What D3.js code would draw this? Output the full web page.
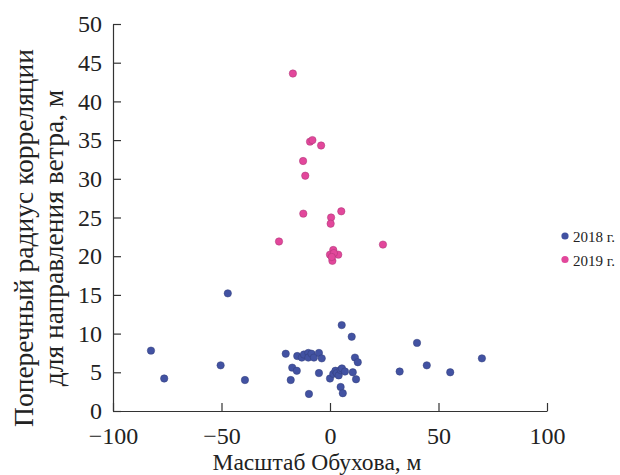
<!DOCTYPE html>
<html>
<head>
<meta charset="utf-8">
<script src="https://cdn.jsdelivr.net/npm/d3@7"></script>
<style>
body { margin: 0; background: #fff; }
svg text { font-family: "Liberation Serif", "Tinos", "Times New Roman", "DejaVu Serif", serif; }
.axis path, .axis line { stroke: #333; stroke-width: 1.2; }
.axis text { font-size: 24px; fill: #222; }
</style>
</head>
<body>
<div id="chart"></div>
<script>

WIDTH = 620;
HEIGHT = 475;
SERIF = "'Liberation Serif', 'Times New Roman', 'DejaVu Serif', serif";

// data
var x2018 = [-82.5, -76.4, -50.4, -39.2, -47.1, -20.4, -17.4, -15.3, -18.1, -15.1, -13.0, -12.0,
             -10.0, -10.0, -8.5, -7.4, -5.1, -3.8, -5.1, -9.7, 0.0, 1.5, 2.5, 3.1, 4.0, 4.9, 5.5,
             6.9, 4.9, 5.9, 5.4, 10.0, 11.5, 12.8, 10.5, 12.0, 40.1, 32.1, 44.6, 55.4, 70.0];
var y2018 = [7.8, 4.2, 5.9, 4.0, 15.2, 7.4, 5.6, 5.2, 4.0, 7.1, 6.9, 7.3,
             7.5, 6.9, 7.4, 6.9, 7.5, 6.8, 4.9, 2.2, 4.2, 4.8, 5.2, 4.9, 4.6, 5.3, 5.5,
             5.1, 3.1, 2.3, 11.1, 9.6, 6.9, 6.3, 5.0, 4.1, 8.8, 5.1, 5.9, 5.0, 6.8];

var x2019 = [-17.1, -9.2, -8.1, -4.1, -12.4, -11.4, -12.3, 5.2, 0.5, 0.3, -23.5, 24.4,
             1.5, 0.0, 3.8, 1.1, 1.8, 0.8];
var y2019 = [43.6, 34.8, 35.0, 34.3, 32.3, 30.4, 25.5, 25.8, 25.0, 24.2, 21.9, 21.5,
             20.8, 20.2, 20.2, 19.4, 20.4, 19.9];

var series = [
    { label: "2018 г.", colour: "#4252a2", xs: x2018, ys: y2018 },
    { label: "2019 г.", colour: "#e2479b", xs: x2019, ys: y2019 }
];

var xTicks = [-100, -50, 0, 50, 100];
var yTicks = [0, 5, 10, 15, 20, 25, 30, 35, 40, 45, 50];

var svg = d3.select("#chart").append("svg")
    .attr("width", WIDTH)
    .attr("height", HEIGHT);

var x = d3.scaleLinear().domain([-100, 100]).range([113, 547]);
var y = d3.scaleLinear().domain([0, 50]).range([411, 24]);

svg.append("g")
    .attr("class", "axis")
    .attr("transform", "translate(0," + y(0) + ")")
    .call(d3.axisBottom(x).tickValues(xTicks).tickSizeInner(-8).tickSizeOuter(0).tickPadding(16))
    .attr("font-family", SERIF);

svg.append("g")
    .attr("class", "axis")
    .attr("transform", "translate(" + x(-100) + ",0)")
    .call(d3.axisLeft(y).tickValues(yTicks).tickSizeInner(-8).tickSizeOuter(0).tickPadding(11))
    .attr("font-family", SERIF);

// points
series.forEach(function (s) {
    svg.append("g")
        .selectAll("circle")
        .data(s.xs.map(function (v, i) { return [v, s.ys[i]]; }))
        .enter()
        .append("circle")
        .attr("cx", function (d) { return x(d[0]); })
        .attr("cy", function (d) { return y(d[1]); })
        .attr("r", 3.7)
        .attr("fill", s.colour)
        .attr("stroke", d3.color(s.colour).darker(0.8))
        .attr("stroke-width", 0.5);
});

// legend
var legend = svg.append("g").attr("transform", "translate(565,236)");
series.forEach(function (s, i) {
    var g = legend.append("g").attr("transform", "translate(0," + (i * 23.5) + ")");
    g.append("circle").attr("r", 3.6).attr("fill", s.colour);
    g.append("text")
        .attr("x", 8)
        .attr("y", 6)
        .attr("font-family", SERIF)
        .attr("font-size", 15)
        .attr("fill", "#222")
        .text(s.label);
});

// axis titles
svg.append("text")
    .attr("x", 317)
    .attr("y", 470)
    .attr("text-anchor", "middle")
    .attr("font-family", SERIF)
    .attr("font-size", 23.5)
    .attr("fill", "#222")
    .text("Масштаб Обухова, м");

var ytitle = svg.append("text")
    .attr("transform", "translate(0,238) rotate(-90)")
    .attr("text-anchor", "middle")
    .attr("font-family", SERIF)
    .attr("font-size", 27.5)
    .attr("fill", "#222");
ytitle.append("tspan").attr("x", 0).attr("y", 33).text("Поперечный радиус корреляции");
ytitle.append("tspan").attr("x", 0).attr("y", 63).text("для направления ветра, м");

</script>
</body>
</html>
